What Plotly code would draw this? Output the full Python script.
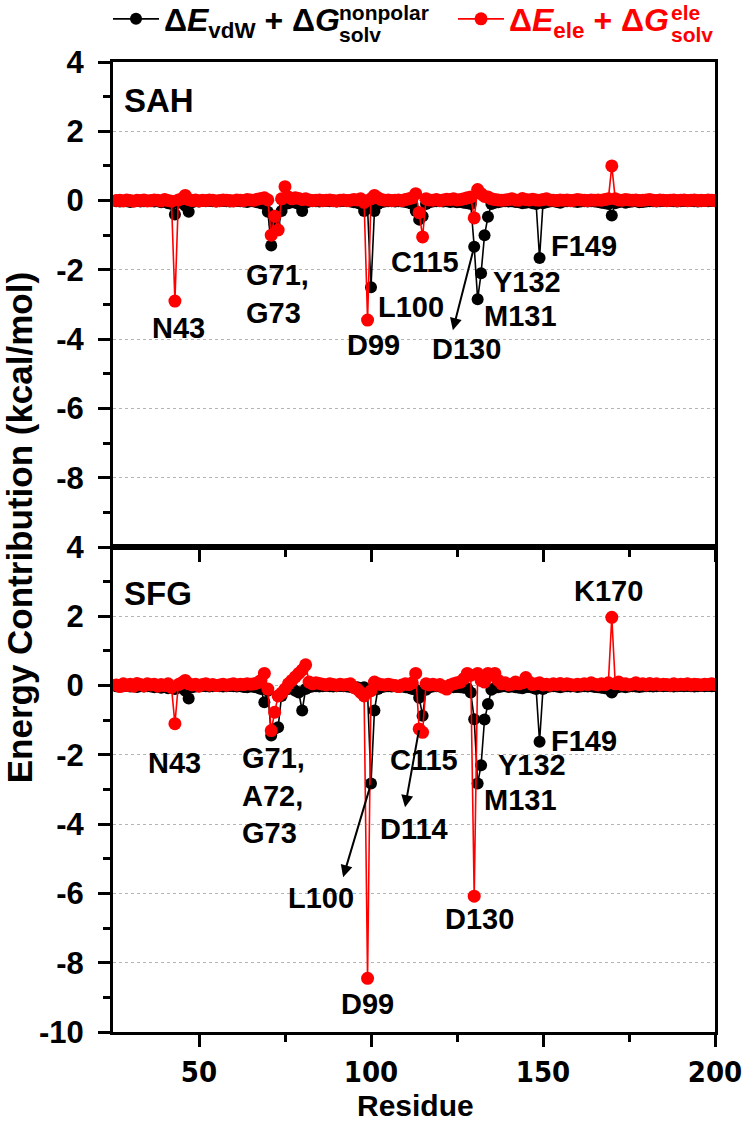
import plotly.graph_objects as go

# ---------------- data ----------------
residues = list(range(26, 201))

sah_vdw = [
    -0.02, -0.03, -0.01, -0.02, -0.04, -0.02, -0.01, -0.03, -0.02, -0.01,   # 26-35
    -0.02, -0.03, -0.02, -0.05, -0.03, -0.08, -0.10, -0.40, -0.06, -0.04,   # 36-45
    -0.15, -0.32, -0.05, -0.02, -0.03, -0.01, -0.02, -0.01, -0.02, -0.03,   # 46-55
    -0.02, -0.01, -0.02, -0.03, -0.02, -0.01, -0.02, -0.03, -0.04, -0.02,   # 56-65
    -0.03, -0.05, -0.08, -0.10, -0.32, -1.30, -0.70, -0.85, -0.30, -0.10,   # 66-75
    -0.08, -0.05, -0.06, -0.10, -0.30, -0.06, -0.03, -0.02, -0.02, -0.03,   # 76-85
    -0.02, -0.01, -0.02, -0.02, -0.03, -0.02, -0.01, -0.02, -0.03, -0.05,   # 86-95
    -0.06, -0.10, -0.30, -0.22, -2.50, -0.30, -0.10, -0.05, -0.03, -0.02,   # 96-105
    -0.02, -0.03, -0.02, -0.03, -0.04, -0.06, -0.10, -0.30, -0.55, -0.45,   # 106-115
    -0.10, -0.05, -0.03, -0.02, -0.02, -0.03, -0.02, -0.04, -0.03, -0.05,   # 116-125
    -0.04, -0.06, -0.08, -0.10, -1.33, -2.85, -2.10, -1.00, -0.47, -0.10,   # 126-135
    -0.06, -0.05, -0.03, -0.02, -0.03, -0.02, -0.04, -0.05, -0.08, -0.06,   # 136-145
    -0.05, -0.08, -0.10, -1.66, -0.08, -0.05, -0.03, -0.02, -0.04, -0.06,   # 146-155
    -0.03, -0.02, -0.02, -0.03, -0.04, -0.03, -0.02, -0.03, -0.02, -0.03,   # 156-165
    -0.04, -0.06, -0.08, -0.10, -0.43, -0.08, -0.05, -0.03, -0.06, -0.04,   # 166-175
    -0.03, -0.02, -0.05, -0.04, -0.03, -0.02, -0.02, -0.03, -0.02, -0.01,   # 176-185
    -0.02, -0.01, -0.02, -0.03, -0.02, -0.01, -0.02, -0.01, -0.02, -0.03,   # 186-195
    -0.02, -0.01, -0.02, -0.01, -0.02,                                      # 196-200
]

sah_ele = [
    0.00, 0.01, -0.01, 0.02, 0.00, -0.02, 0.01, 0.00, 0.02, -0.01,          # 26-35
    0.00, 0.02, 0.01, -0.01, 0.03, 0.00, -0.02, -2.90, 0.02, 0.05,          # 36-45
    0.15, 0.03, 0.00, 0.02, -0.01, 0.01, 0.00, 0.02, 0.01, -0.01,           # 46-55
    0.00, 0.02, 0.01, 0.00, -0.01, 0.02, 0.01, 0.00, 0.03, 0.02,            # 56-65
    0.01, 0.04, 0.06, 0.08, 0.02, -1.00, -0.45, -0.85, 0.05, 0.40,          # 66-75
    0.10, 0.05, 0.08, 0.06, 0.03, 0.05, 0.02, 0.00, 0.01, 0.02,             # 76-85
    0.00, 0.01, 0.02, 0.00, -0.01, 0.01, 0.02, 0.00, 0.01, 0.03,            # 86-95
    0.02, 0.05, -0.05, -3.45, 0.05, 0.15, 0.08, 0.03, 0.01, 0.02,           # 96-105
    0.00, 0.01, 0.02, 0.00, 0.03, 0.05, 0.08, 0.20, -0.35, -1.05,           # 106-115
    0.05, 0.02, 0.01, 0.03, 0.00, 0.02, 0.04, 0.03, 0.05, 0.02,             # 116-125
    0.03, 0.05, 0.08, 0.10, -0.50, 0.32, 0.20, 0.12, 0.10, 0.05,            # 126-135
    0.03, 0.02, 0.01, 0.02, 0.03, 0.05, 0.02, 0.01, 0.06, 0.03,             # 136-145
    0.02, 0.04, 0.02, 0.01, 0.03, 0.05, 0.02, 0.01, 0.00, 0.02,             # 146-155
    0.01, 0.02, 0.00, 0.01, 0.03, 0.02, 0.01, 0.00, 0.02, 0.01,             # 156-165
    0.02, 0.01, 0.03, 0.05, 1.00, 0.05, 0.02, 0.01, 0.03, 0.02,             # 166-175
    0.01, 0.02, 0.00, 0.01, 0.02, 0.03, 0.01, 0.00, 0.02, 0.01,             # 176-185
    0.00, 0.01, 0.02, 0.00, 0.01, 0.02, 0.00, 0.01, 0.02, 0.00,             # 186-195
    0.01, 0.00, 0.02, 0.01, 0.00,                                           # 196-200
]

sfg_vdw = [
    -0.02, -0.03, -0.02, -0.01, -0.03, -0.02, -0.04, -0.02, -0.03, -0.02,   # 26-35
    -0.03, -0.05, -0.03, -0.06, -0.04, -0.08, -0.05, -0.10, -0.06, -0.04,   # 36-45
    -0.15, -0.37, -0.05, -0.03, -0.02, -0.01, -0.02, -0.03, -0.02, -0.01,   # 46-55
    -0.02, -0.03, -0.02, -0.01, -0.02, -0.03, -0.02, -0.04, -0.05, -0.03,   # 56-65
    -0.04, -0.06, -0.10, -0.48, -0.15, -1.44, -1.25, -1.20, -0.30, -0.12,   # 66-75
    -0.10, -0.06, -0.15, -0.20, -0.72, -0.10, -0.05, -0.03, -0.02, -0.03,   # 76-85
    -0.02, -0.01, -0.02, -0.03, -0.02, -0.01, -0.02, -0.03, -0.04, -0.06,   # 86-95
    -0.05, -0.08, -0.05, -0.20, -2.83, -0.72, -0.10, -0.05, -0.03, -0.02,   # 96-105
    -0.03, -0.02, -0.04, -0.03, -0.05, -0.06, -0.10, -0.12, -0.35, -0.87,   # 106-115
    -0.12, -0.05, -0.03, -0.02, -0.03, -0.02, -0.04, -0.03, -0.05, -0.04,   # 116-125
    -0.05, -0.06, -0.08, -0.20, -0.97, -2.83, -2.30, -0.98, -0.53, -0.12,   # 126-135
    -0.06, -0.05, -0.03, -0.02, -0.04, -0.03, -0.05, -0.06, -0.08, -0.05,   # 136-145
    -0.04, -0.06, -0.10, -1.62, -0.10, -0.05, -0.03, -0.02, -0.03, -0.05,   # 146-155
    -0.03, -0.02, -0.03, -0.02, -0.04, -0.03, -0.02, -0.03, -0.02, -0.04,   # 156-165
    -0.05, -0.06, -0.08, -0.10, -0.20, -0.08, -0.04, -0.03, -0.05, -0.03,   # 166-175
    -0.02, -0.03, -0.04, -0.03, -0.02, -0.02, -0.03, -0.02, -0.01, -0.02,   # 176-185
    -0.01, -0.02, -0.03, -0.02, -0.01, -0.02, -0.01, -0.02, -0.03, -0.02,   # 186-195
    -0.01, -0.02, -0.01, -0.02, -0.01,                                      # 196-200
]

sfg_ele = [
    0.02, -0.03, 0.05, 0.00, 0.04, -0.02, 0.06, 0.03, -0.01, 0.05,          # 26-35
    0.02, 0.04, -0.02, 0.03, 0.00, 0.05, -0.05, -1.10, 0.03, 0.08,          # 36-45
    0.15, 0.05, 0.02, 0.04, -0.02, 0.03, 0.05, 0.01, 0.03, 0.00,            # 46-55
    0.02, 0.04, 0.01, 0.03, 0.05, 0.02, 0.04, 0.03, 0.05, 0.04,             # 56-65
    0.05, 0.08, 0.15, 0.35, -0.10, -1.30, -0.77, -0.30, -0.22, -0.10,       # 66-75
    0.05, 0.15, 0.25, 0.35, 0.45, 0.60, 0.10, 0.05, 0.08, 0.06,             # 76-85
    0.04, 0.02, 0.05, 0.03, 0.01, 0.04, 0.02, 0.03, 0.05, -0.05,            # 86-95
    -0.10, -0.20, -0.30, -8.45, -0.15, 0.10, 0.05, 0.03, 0.02, 0.04,        # 96-105
    0.02, 0.00, -0.03, 0.02, 0.05, 0.03, 0.08, 0.35, -1.25, -1.35,          # 106-115
    0.05, 0.02, 0.04, 0.01, 0.03, -0.05, -0.10, 0.02, 0.05, 0.08,           # 116-125
    0.10, 0.20, 0.35, 0.30, -6.08, 0.35, 0.15, 0.10, 0.35, 0.30,            # 126-135
    0.35, 0.15, 0.05, 0.08, 0.02, 0.04, 0.10, 0.05, 0.08, 0.23,             # 136-145
    0.10, 0.03, 0.05, 0.08, 0.02, 0.04, 0.01, 0.05, 0.03, 0.06,             # 146-155
    0.02, 0.05, 0.03, 0.01, 0.04, 0.02, 0.05, 0.03, 0.08, 0.04,             # 156-165
    0.02, 0.05, 0.03, 0.08, 1.97, 0.05, 0.10, 0.03, 0.05, 0.02,             # 166-175
    0.04, 0.08, 0.03, 0.05, 0.02, 0.06, 0.03, 0.05, 0.02, 0.04,             # 176-185
    0.03, 0.01, 0.05, 0.02, 0.04, 0.03, 0.05, 0.02, 0.04, 0.03,             # 186-195
    0.02, 0.04, 0.03, 0.05, 0.03,                                           # 196-200
]

x_ticks = [50, 100, 150, 200]
x_minor = [75, 125, 175]
y_ticks_top = [4, 2, 0, -2, -4, -6, -8]
y_ticks_bot = [4, 2, 0, -2, -4, -6, -8, -10]
y_minor = [3, 1, -1, -3, -5, -7, -9]

# labels: (text, x, y, xanchor)
labels_top = [
    ("N43", 43.9, -3.68, "center"),
    ("G71,<br>G73", 63.0, -2.70, "left"),
    ("L100", 111.6, -3.07, "center"),
    ("D99", 100.6, -4.17, "center"),
    ("C115", 115.7, -1.77, "center"),
    ("D130", 127.9, -4.29, "center"),
    ("M131", 143.6, -3.33, "center"),
    ("Y132", 145.3, -2.35, "center"),
    ("F149", 161.9, -1.31, "center"),
]
labels_bot = [
    ("K170", 168.9, 2.73, "center"),
    ("N43", 43.0, -2.24, "center"),
    ("G71,<br>A72,<br>G73", 61.8, -3.16, "left"),
    ("C115", 115.4, -2.15, "center"),
    ("D114", 112.5, -4.14, "center"),
    ("L100", 85.5, -6.13, "center"),
    ("D99", 99.1, -9.19, "center"),
    ("D130", 131.4, -6.74, "center"),
    ("Y132", 146.8, -2.29, "center"),
    ("M131", 143.6, -3.30, "center"),
    ("F149", 161.9, -1.60, "center"),
]
# arrows: (head_x, head_y, tail_x, tail_y)
arrows_top = [(123.8, -3.74, 130, -1.33)]
arrows_bot = [(91.9, -5.53, 100, -2.83), (109.9, -3.51, 114, -1.25)]

FONT = "Liberation Sans, Arial, sans-serif"
NARROW = "Liberation Sans Narrow, DejaVu Sans Condensed, Liberation Sans, Arial, sans-serif"
BLACK = "#000000"
RED = "#ff0000"

fig = go.Figure()

name_vdw = "Δ<i>E</i><sub>vdW</sub> + Δ<i>G</i>"
name_ele = "Δ<i>E</i><sub>ele</sub> + Δ<i>G</i>"

for (yv, ye, xa, ya, leg) in [(sah_vdw, sah_ele, "x", "y", True), (sfg_vdw, sfg_ele, "x2", "y2", False)]:
    fig.add_trace(go.Scatter(
        x=residues, y=yv, mode="lines+markers", xaxis=xa, yaxis=ya,
        line=dict(color=BLACK, width=1.6), marker=dict(color=BLACK, size=12),
        name=name_vdw, legendgroup="vdw", showlegend=leg, legend="legend"))
    fig.add_trace(go.Scatter(
        x=residues, y=ye, mode="lines+markers", xaxis=xa, yaxis=ya,
        line=dict(color=RED, width=1.6), marker=dict(color=RED, size=13),
        name=name_ele, legendgroup="ele", showlegend=leg, legend="legend2"))

axis_common = dict(
    showline=True, mirror=True, linecolor=BLACK, linewidth=3,
    ticks="outside", tickcolor=BLACK, tickwidth=3, ticklen=12,
    zeroline=False,
)
xcommon = dict(axis_common, range=[25, 200], tickvals=x_ticks,
               ticktext=[str(v) for v in x_ticks], showgrid=False,
               minor=dict(tickvals=x_minor, ticks="outside", ticklen=7, tickwidth=3,
                          tickcolor=BLACK, showgrid=False))
ycommon = dict(axis_common, range=[-10, 4], showgrid=True, gridcolor="#b5b5b5",
               griddash="dot", gridwidth=1, ticklabelstandoff=8,
               tickfont=dict(family=FONT, size=31, color=BLACK, weight="bold"),
               minor=dict(tickvals=y_minor, ticks="outside", ticklen=7, tickwidth=3,
                          tickcolor=BLACK, showgrid=False))

annotations = []
annotations.append(dict(text="SAH", x=27.6, y=2.90, xref="x", yref="y", xanchor="left",
                        yanchor="middle", showarrow=False,
                        font=dict(family=FONT, size=33, color=BLACK, weight="bold")))
annotations.append(dict(text="SFG", x=27.6, y=2.67, xref="x2", yref="y2", xanchor="left",
                        yanchor="middle", showarrow=False,
                        font=dict(family=FONT, size=33, color=BLACK, weight="bold")))
for labels, xr, yr in [(labels_top, "x", "y"), (labels_bot, "x2", "y2")]:
    for (t, lx, ly, anc) in labels:
        annotations.append(dict(text=t, x=lx, y=ly, xref=xr, yref=yr, xanchor=anc,
                                yanchor="middle", align="left", showarrow=False,
                                font=dict(family=FONT, size=29, color=BLACK, weight="bold")))
for arrows, xr, yr in [(arrows_top, "x", "y"), (arrows_bot, "x2", "y2")]:
    for (hx, hy, tx, ty) in arrows:
        annotations.append(dict(text="", x=hx, y=hy, xref=xr, yref=yr,
                                ax=tx, ay=ty, axref=xr, ayref=yr, showarrow=True,
                                arrowhead=2, arrowsize=1.2, arrowwidth=2, arrowcolor=BLACK,
                                standoff=0, startstandoff=0))
# y title spanning both panels
annotations.append(dict(text="Energy Contribution (kcal/mol)", x=-0.155, y=0.52,
                        xref="paper", yref="paper", textangle=-90, showarrow=False,
                        xanchor="center", yanchor="middle",
                        font=dict(family=FONT, size=35, color=BLACK, weight="bold")))
annotations.append(dict(text="Residue", x=0.502, y=-0.076, xref="paper", yref="paper",
                        showarrow=False, xanchor="center", yanchor="middle",
                        font=dict(family=FONT, size=30, color=BLACK, weight="bold")))
# stacked super/subscripts of the legend entries
SUP_Y, SUB_Y = 1.0506, 1.0286
for (t, xx, yy, col) in [("nonpolar", 0.373, SUP_Y, BLACK), ("solv", 0.373, SUB_Y, BLACK),
                         ("ele", 0.926, SUP_Y, RED), ("solv", 0.926, SUB_Y, RED)]:
    annotations.append(dict(text=t, x=xx, y=yy, xref="paper", yref="paper",
                            showarrow=False, xanchor="left", yanchor="middle",
                            borderpad=0,
                            font=dict(family=FONT, size=21, color=col, weight="bold")))

legend_common = dict(orientation="h", xanchor="left", y=1.0443, yanchor="middle",
                     itemwidth=46, bgcolor="rgba(0,0,0,0)")

fig.update_layout(
    width=750, height=1124,
    margin=dict(l=113, r=35, t=62, b=92, autoexpand=False),
    paper_bgcolor="white", plot_bgcolor="white",
    xaxis=dict(xcommon, domain=[0, 1], anchor="y", showticklabels=False),
    xaxis2=dict(xcommon, domain=[0, 1], anchor="y2", showticklabels=True,
                tickfont=dict(family=NARROW, size=29, color=BLACK, weight="bold")),
    yaxis=dict(ycommon, domain=[0.5, 1], anchor="x", tickvals=y_ticks_top,
               ticktext=[str(v) for v in y_ticks_top]),
    yaxis2=dict(ycommon, domain=[0, 0.5], anchor="x2", tickvals=y_ticks_bot,
                ticktext=[str(v) for v in y_ticks_bot]),
    showlegend=True,
    legend=dict(legend_common, x=-0.0083,
                font=dict(family=FONT, size=32, color=BLACK, weight="bold")),
    legend2=dict(legend_common, x=0.5648,
                 font=dict(family=FONT, size=32, color=RED, weight="bold")),
    annotations=annotations,
)

fig.write_html("out.html", config={"displayModeBar": False},
               post_script="document.body.style.margin='0px';document.body.style.overflow='hidden';")
